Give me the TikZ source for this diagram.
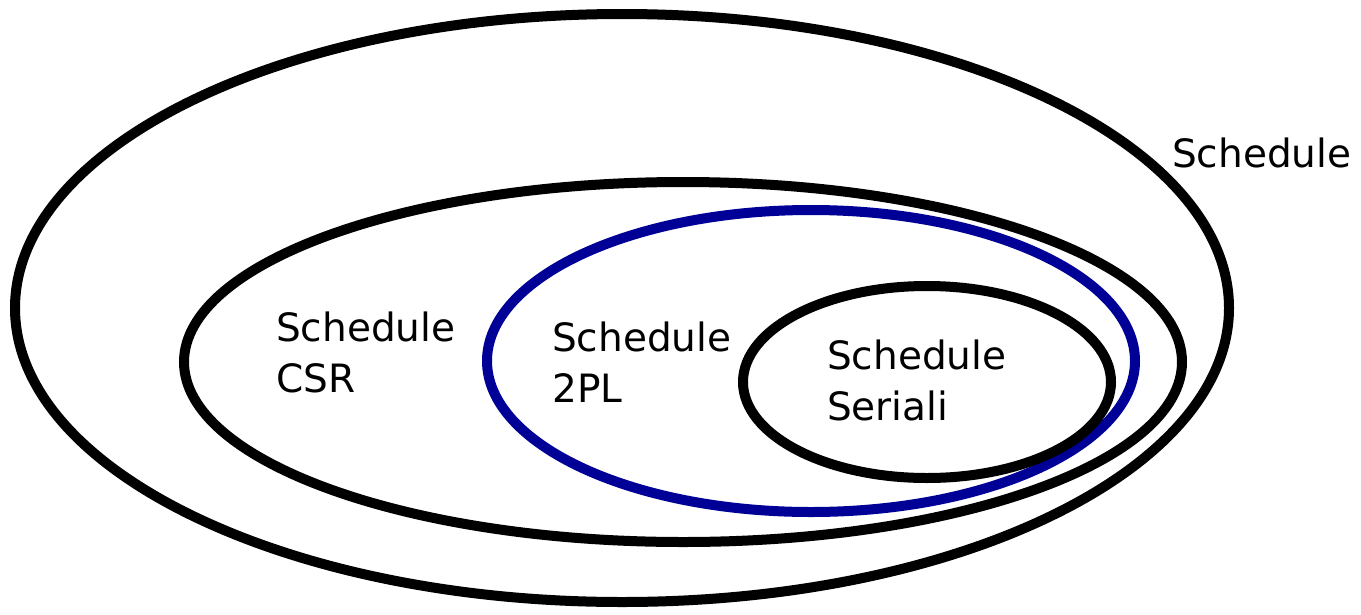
\documentclass[tikz,border=0pt]{standalone}
\usepackage{fontspec}
\setmainfont{DejaVu Sans}
\definecolor{setblue}{RGB}{0,0,150}
\begin{document}
\begin{tikzpicture}[x=1pt,y=-1pt,
  setline/.style={line width=10pt},
  label/.style={anchor=north west,inner sep=0pt,align=left,
    font=\fontsize{39}{51}\selectfont}]
\useasboundingbox (0,0) rectangle (1361,614);
% nested sets of schedules
\draw[setline] (622,308) ellipse [x radius=607, y radius=294];
\draw[setline] (683,362) ellipse [x radius=499, y radius=180];
\draw[setline,setblue] (811,361) ellipse [x radius=324, y radius=151];
\draw[setline] (927,382) ellipse [x radius=184, y radius=96];
% set names
\node[label] (all) at (1172,138) {Schedule};
\node[label] (csr) at (276,312) {Schedule\\CSR};
\node[label] (tpl) at (552,322) {Schedule\\2PL};
\node[label] (ser) at (827,340) {Schedule\\Seriali};
\end{tikzpicture}
\end{document}
